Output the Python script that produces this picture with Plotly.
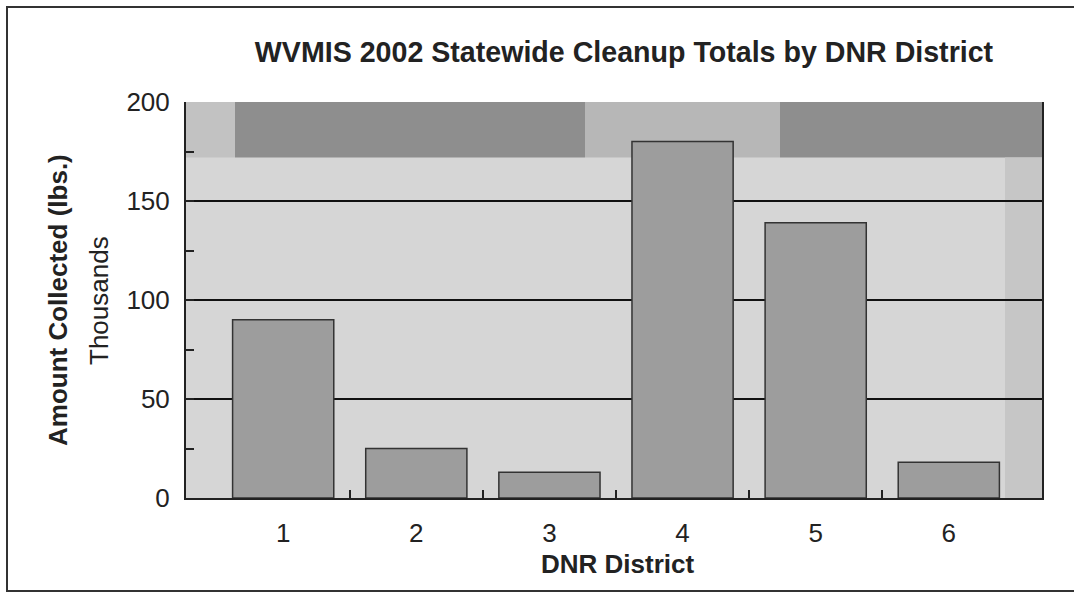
import plotly.graph_objects as go

districts = [1, 2, 3, 4, 5, 6]
district_labels = ["1", "2", "3", "4", "5", "6"]
amounts = [90, 25, 13, 180, 139, 18]  # thousands of lbs
y_ticks = [0, 50, 100, 150, 200]
boundaries = [1.5, 2.5, 3.5, 4.5, 5.5]

W, H = 1074, 593
L, R, T, B = 186, 32, 102, 95
PW, PH = W - L - R, H - T - B
FONT = "Liberation Sans, Arial, Helvetica, sans-serif"
XRANGE = [0.27, 6.70]

fig = go.Figure()
fig.add_trace(go.Bar(
    x=districts, y=amounts,
    marker=dict(color="#9d9d9d", line=dict(color="#333333", width=1.5)),
    showlegend=False,
))
# invisible trace to carry the boundary tick axis
fig.add_trace(go.Scatter(x=[XRANGE[0]], y=[0], xaxis="x2", mode="markers",
                         marker=dict(opacity=0), showlegend=False, hoverinfo="skip"))

def px_to_paper_x(px):
    return (px - L) / PW

def py_to_paper_y(py):
    return (T + PH - py) / PH

shapes = [
    dict(type="rect", xref="paper", yref="y", x0=0, x1=px_to_paper_x(235), y0=172, y1=200,
         fillcolor="#c2c2c2", line_width=0, layer="below"),
    dict(type="rect", xref="paper", yref="y", x0=px_to_paper_x(235), x1=px_to_paper_x(585), y0=172, y1=200,
         fillcolor="#8e8e8e", line_width=0, layer="below"),
    dict(type="rect", xref="paper", yref="y", x0=px_to_paper_x(585), x1=px_to_paper_x(780), y0=172, y1=200,
         fillcolor="#b7b7b7", line_width=0, layer="below"),
    dict(type="rect", xref="paper", yref="y", x0=px_to_paper_x(780), x1=1, y0=172, y1=200,
         fillcolor="#8e8e8e", line_width=0, layer="below"),
    dict(type="rect", xref="paper", yref="y", x0=px_to_paper_x(1005), x1=1, y0=0, y1=172,
         fillcolor="#c6c6c6", line_width=0, layer="below"),
    # outer frame
    dict(type="rect", xref="paper", yref="paper",
         x0=px_to_paper_x(7), x1=px_to_paper_x(1085),
         y0=py_to_paper_y(591), y1=py_to_paper_y(7),
         line=dict(color="#333333", width=2), fillcolor="rgba(0,0,0,0)", layer="above"),
]

annotations = [
    dict(text="<b>Amount Collected (lbs.)</b>", textangle=-90, xref="paper", yref="paper",
         x=px_to_paper_x(58), y=py_to_paper_y(300), xanchor="center", yanchor="middle",
         showarrow=False, font=dict(size=26, color="#222222", family=FONT)),
    dict(text="Thousands", textangle=-90, xref="paper", yref="paper",
         x=px_to_paper_x(99), y=py_to_paper_y(301), xanchor="center", yanchor="middle",
         showarrow=False, font=dict(size=26, color="#222222", family=FONT)),
    dict(text="<b>DNR District</b>", xref="paper", yref="paper",
         x=px_to_paper_x(617), y=py_to_paper_y(564), xanchor="center", yanchor="middle",
         showarrow=False, font=dict(size=26, color="#222222", family=FONT)),
]

fig.update_layout(
    width=W, height=H,
    margin=dict(l=L, r=R, t=T, b=B, autoexpand=False),
    paper_bgcolor="white",
    plot_bgcolor="#d6d6d6",
    bargap=0.24,
    font=dict(family=FONT, size=26, color="#222222"),
    title=dict(text="<b>WVMIS 2002 Statewide Cleanup Totals by DNR District</b>",
               x=624 / W, xanchor="center", y=1 - 52 / H, yanchor="middle",
               font=dict(size=28.6, color="#222222")),
    shapes=shapes,
    annotations=annotations,
    xaxis=dict(
        range=XRANGE, tickvals=districts, ticktext=district_labels, ticks="",
        showline=True, linecolor="#222222", linewidth=2, showgrid=False, zeroline=False,
        ticklabelstandoff=11, tickfont=dict(size=26),
    ),
    xaxis2=dict(
        range=XRANGE, overlaying="x", side="bottom", anchor="y", tickvals=boundaries,
        showticklabels=False, ticks="inside", ticklen=8, tickwidth=2, tickcolor="#222222",
        showgrid=False, zeroline=False, showline=False,
    ),
    yaxis=dict(
        range=[0, 200], tickvals=y_ticks, ticks="inside", ticklen=8, tickwidth=2,
        tickcolor="#222222", showline=True, linecolor="#222222", linewidth=2, mirror=True,
        showgrid=True, gridcolor="#111111", gridwidth=2, zeroline=False,
        minor=dict(dtick=25, ticks="inside", ticklen=8, tickwidth=2, tickcolor="#222222",
                   showgrid=False),
        ticklabelstandoff=9, tickfont=dict(size=26),
    ),
)

fig.write_html("out.html", config={"displayModeBar": False},
               post_script="document.body.style.margin='0';")
